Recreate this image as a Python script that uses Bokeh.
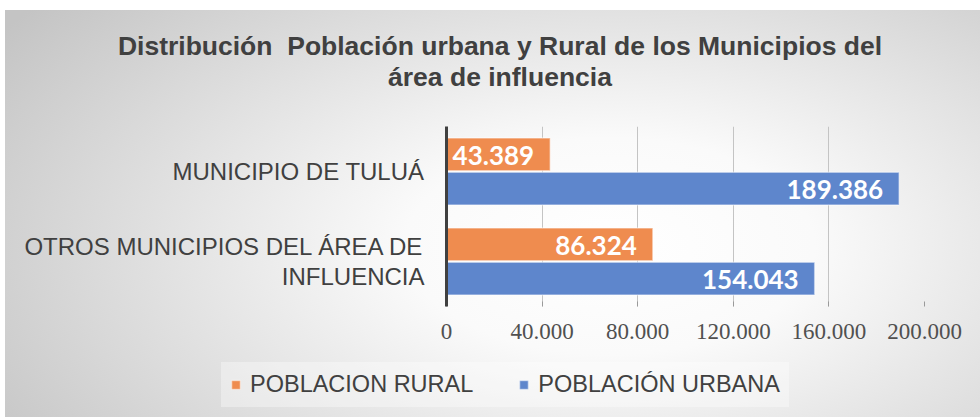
import html
from bokeh.plotting import figure
from bokeh.layouts import column
from bokeh.models import Range1d, FixedTicker, Legend, LegendItem, ColumnDataSource, Div
from bokeh.core.properties import value
from bokeh.embed import file_html
from bokeh.resources import INLINE

# ---- data ----
categories = ["OTROS MUNICIPIOS DEL ÁREA DE\nINFLUENCIA", "MUNICIPIO DE TULUÁ"]
rural = [86324, 43389]
urbana = [154043, 189386]
series_names = ["POBLACION RURAL", "POBLACIÓN URBANA"]
x_ticks = [0, 40000, 80000, 120000, 160000, 200000]
x_tick_labels = ["0", "40.000", "80.000", "120.000", "160.000", "200.000"]
title_lines = ["Distribución  Población urbana y Rural de los Municipios del",
               "área de influencia"]

ORANGE = "#EF8C4F"
BLUE = "#5E86CC"
TXT = "#404040"
W = 980
FRAME_LEFT = 446

# ---- title ----
title_html = "<br>".join(html.escape(t) for t in title_lines)
title_div = Div(
    text=("<div style=\"font-family:'Liberation Sans',Arial,sans-serif;font-weight:bold;"
          "font-size:26.5px;line-height:31px;color:%s;text-align:center;white-space:pre;"
          "width:%dpx;padding:31px 0 0 20px;box-sizing:border-box;\">%s</div>") % (TXT, W, title_html),
    width=W, height=100, margin=0)

# ---- main chart ----
p = figure(width=W, height=255, output_backend="svg", toolbar_location=None,
           x_range=Range1d(0, 200000), y_range=Range1d(0, len(categories)),
           min_border_left=FRAME_LEFT, min_border_right=56, min_border_top=26,
           min_border_bottom=49)
p.border_fill_alpha = 0
p.background_fill_alpha = 0
p.outline_line_color = None

cat_y = [i + 0.5 for i in range(len(categories))]
fmt = lambda v: f"{v:,}".replace(",", ".")

src_r = ColumnDataSource(dict(y=[c + 0.19 for c in cat_y], v=rural, lab=[fmt(v) for v in rural]))
src_u = ColumnDataSource(dict(y=[c - 0.19 for c in cat_y], v=urbana, lab=[fmt(v) for v in urbana]))

bar_style = dict(y="y", right="v", left=0, height=0.365, line_color="white",
                 line_alpha=0.45, line_width=1.5)
p.hbar(source=src_r, fill_color=ORANGE, **bar_style)
p.hbar(source=src_u, fill_color=BLUE, **bar_style)

for src in (src_r, src_u):
    p.text(x="v", y="y", text="lab", source=src, x_offset=-16, y_offset=1,
           text_align="right", text_baseline="middle", text_color="white",
           text_font=value("Lato"), text_font_style="bold", text_font_size="26px")

p.xaxis.ticker = FixedTicker(ticks=x_ticks)
p.xaxis.major_label_overrides = {t: l for t, l in zip(x_ticks, x_tick_labels)}
p.xaxis.axis_line_alpha = 0
p.xaxis.major_tick_in = 5
p.xaxis.major_tick_out = 0
p.xaxis.major_tick_line_color = "#9a9a9a"
p.xaxis.minor_tick_line_color = None
p.xaxis.major_label_standoff = 17
p.xaxis.major_label_text_font = "Liberation Serif"
p.xaxis.major_label_text_font_size = "23px"
p.xaxis.major_label_text_color = "#505050"

p.yaxis.ticker = FixedTicker(ticks=cat_y)
p.yaxis.major_label_overrides = {t: l for t, l in zip(cat_y, categories)}
p.yaxis.axis_line_width = 3
p.yaxis.axis_line_color = "#404040"
p.yaxis.major_tick_line_color = None
p.yaxis.minor_tick_line_color = None
p.yaxis.major_label_standoff = 16
p.yaxis.major_label_text_font = "Liberation Sans"
p.yaxis.major_label_text_font_size = "24px"
p.yaxis.major_label_text_line_height = 1.1
p.yaxis.major_label_text_color = TXT

p.xgrid.grid_line_color = "#c4c4c4"
p.ygrid.grid_line_color = None

# ---- legend strip ----
pl = figure(width=W, height=62, output_backend="svg", toolbar_location=None,
            x_range=Range1d(0, 1), y_range=Range1d(0, 1),
            x_axis_location=None, y_axis_location=None,
            min_border_left=0, min_border_right=0, min_border_top=0, min_border_bottom=0)
pl.border_fill_alpha = 0
pl.background_fill_alpha = 0
pl.outline_line_color = None
pl.grid.visible = False
legend_x = 221
if "frame_align" in pl.properties():
    pl.frame_align = False
    p.frame_align = False
else:
    legend_x = 221 - FRAME_LEFT
lr = pl.hbar(source=src_r, fill_color=ORANGE, visible=False, **bar_style)
lu = pl.hbar(source=src_u, fill_color=BLUE, visible=False, **bar_style)
legend = Legend(items=[LegendItem(label=series_names[0], renderers=[lr]),
                       LegendItem(label=series_names[1], renderers=[lu])],
                orientation="horizontal", location=(legend_x, 10),
                glyph_width=11, glyph_height=11, label_standoff=9, spacing=45,
                padding=9, margin=0,
                label_text_font="Liberation Sans", label_text_font_size="23.5px",
                label_text_color=TXT,
                background_fill_color="white", background_fill_alpha=0.35,
                border_line_alpha=0)
pl.add_layout(legend)

root = column(title_div, p, pl, spacing=0, width=W, height=417)
root.styles = {"background": "radial-gradient(ellipse 75% 95% at 62% 58%, #ffffff 0%, #fafafa 28%, #c4c4c4 100%) 5px 10px / calc(100% - 5px) calc(100% - 10px) no-repeat, #ffffff"}

open("out.html", "w").write(file_html(root, INLINE))
